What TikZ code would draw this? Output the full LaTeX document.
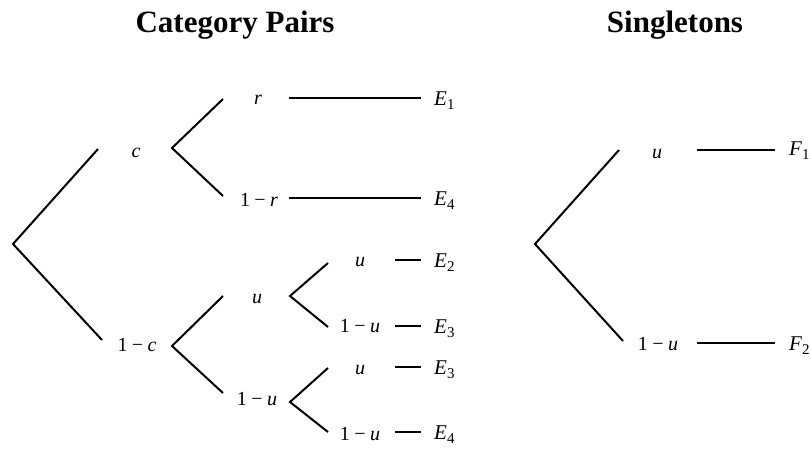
\documentclass[tikz,border=0pt]{standalone}
\usepackage{fontspec}
\setmainfont{Liberation Serif}
\newcommand{\onem}[1]{1\hspace{0.22em}\char"2212\hspace{0.22em}\textit{#1}}
\newcommand{\Esub}[2]{\textit{#1}\raisebox{-0.22em}{\fontsize{15}{15}\selectfont #2}}
\begin{document}
\begin{tikzpicture}[x=1pt,y=-1pt,
  edge/.style={line width=2pt, line cap=butt},
  lbl/.style={anchor=base, inner sep=0pt, font=\fontsize{20}{20}\selectfont},
  elbl/.style={anchor=base west, inner sep=0pt, font=\fontsize{21}{21}\selectfont},
  ttl/.style={anchor=base, inner sep=0pt, font=\fontsize{31}{31}\selectfont\bfseries}]
\useasboundingbox (0,0) rectangle (811,450);
% titles
\node[ttl] (tP) at (235,32) {Category Pairs};
\node[ttl] (tS) at (675,32) {Singletons};
% ---- Category pairs tree
\coordinate (R) at (13,244);
\coordinate (Rc) at (98,149);
\coordinate (Rn) at (102,340);
\node[lbl] (c) at (136,157) {\textit{c}};
\node[lbl] (nc) at (137,351) {\onem{c}};
\draw[edge] (Rc) -- (R) -- (Rn);
% c branch
\coordinate (C) at (172,148);
\coordinate (C1) at (223,99);
\coordinate (C2) at (223,196);
\draw[edge] (C1) -- (C) -- (C2);
\node[lbl] (r) at (258,104) {\textit{r}};
\node[lbl] (nr) at (259,206) {\onem{r}};
\coordinate (r0) at (289,98);
\coordinate (r1) at (421,98);
\coordinate (nr0) at (289,198);
\coordinate (nr1) at (421,198);
\draw[edge] (r0) -- (r1);
\draw[edge] (nr0) -- (nr1);
\node[elbl] (E1) at (434,105) {\Esub{E}{1}};
\node[elbl] (E4a) at (434,205) {\Esub{E}{4}};
% 1-c branch
\coordinate (N) at (172,346);
\coordinate (N1) at (223,296);
\coordinate (N2) at (223,393);
\draw[edge] (N1) -- (N) -- (N2);
\node[lbl] (u) at (257,303) {\textit{u}};
\node[lbl] (nu) at (257,405) {\onem{u}};
% u branch
\coordinate (U) at (290,296);
\coordinate (U1) at (328,263);
\coordinate (U2) at (328,327);
\draw[edge] (U1) -- (U) -- (U2);
% 1-u branch
\coordinate (V) at (290,402);
\coordinate (V1) at (328,368);
\coordinate (V2) at (328,432);
\draw[edge] (V1) -- (V) -- (V2);
\node[lbl] (uu) at (360,266) {\textit{u}};
\node[lbl] (unu) at (360,332) {\onem{u}};
\node[lbl] (vu) at (360,374) {\textit{u}};
\node[lbl] (vnu) at (360,440) {\onem{u}};
\coordinate (a0) at (395,260); \coordinate (a1) at (421,260);
\coordinate (b0) at (395,326); \coordinate (b1) at (421,326);
\coordinate (d0) at (395,367); \coordinate (d1) at (421,367);
\coordinate (e0) at (395,432); \coordinate (e1) at (421,432);
\draw[edge] (a0) -- (a1);
\draw[edge] (b0) -- (b1);
\draw[edge] (d0) -- (d1);
\draw[edge] (e0) -- (e1);
\node[elbl] (E2) at (434,267) {\Esub{E}{2}};
\node[elbl] (E3a) at (434,333) {\Esub{E}{3}};
\node[elbl] (E3b) at (434,374) {\Esub{E}{3}};
\node[elbl] (E4b) at (434,439) {\Esub{E}{4}};
% ---- Singletons tree
\coordinate (S) at (535,244);
\coordinate (S1) at (619,150);
\coordinate (S2) at (623,341);
\draw[edge] (S1) -- (S) -- (S2);
\node[lbl] (su) at (657,158) {\textit{u}};
\node[lbl] (snu) at (658,350) {\onem{u}};
\coordinate (f0) at (697,150); \coordinate (f1) at (775,150);
\coordinate (g0) at (697,343); \coordinate (g1) at (775,343);
\draw[edge] (f0) -- (f1);
\draw[edge] (g0) -- (g1);
\node[elbl] (F1) at (789,155) {\Esub{F}{1}};
\node[elbl] (F2) at (789,350) {\Esub{F}{2}};
\end{tikzpicture}
\end{document}
